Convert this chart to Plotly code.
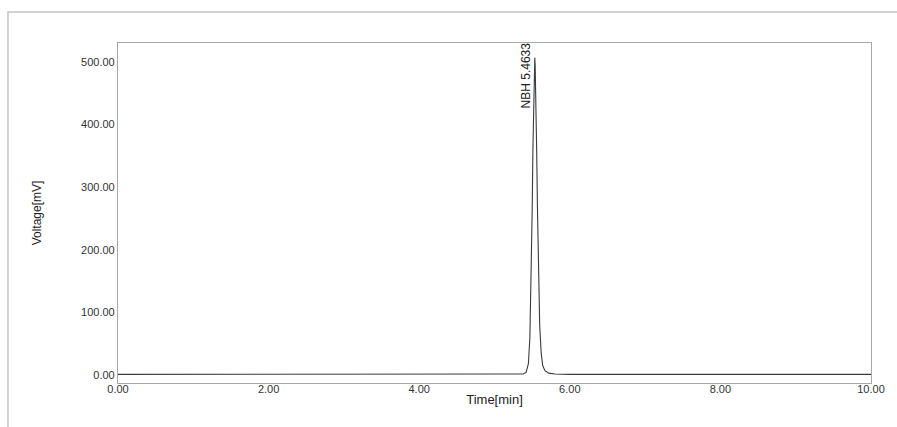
import plotly.graph_objects as go

# Chromatogram data
time_min = [0.00, 1.00, 2.00, 3.00, 4.00, 5.00, 5.30, 5.38, 5.42, 5.45, 5.47, 5.49, 5.50, 5.51,
            5.52, 5.53, 5.535, 5.54, 5.55, 5.56, 5.57, 5.58, 5.59, 5.60, 5.62, 5.64, 5.67,
            5.72, 5.80, 6.00, 7.00, 8.00, 9.00, 10.00]
voltage_mv = [1.0, 1.0, 1.0, 1.0, 1.0, 1.0, 1.0, 1.5, 4.0, 18.0, 60.0, 170.0, 260.0, 360.0,
              450.0, 500.0, 507.0, 495.0, 440.0, 360.0, 270.0, 190.0, 125.0, 80.0, 35.0, 15.0, 7.0,
              3.0, 1.5, 1.0, 1.0, 1.0, 1.0, 1.0]
peak_label = "NBH 5.4633"
peak_time = 5.535
peak_value = 507.0

x_ticks = [0, 2, 4, 6, 8, 10]
x_ticktext = ["0.00", "2.00", "4.00", "6.00", "8.00", "10.00"]
y_ticks = [0, 100, 200, 300, 400, 500]
y_ticktext = ["0.00", "100.00", "200.00", "300.00", "400.00", "500.00"]

fig = go.Figure()
fig.add_trace(go.Scatter(x=time_min, y=voltage_mv, mode="lines",
                         line=dict(color="#3a3a3a", width=1.1), hoverinfo="x+y",
                         showlegend=False))

fig.add_annotation(x=peak_time, y=peak_value, text=peak_label, textangle=-90,
                   showarrow=False, xanchor="right", yanchor="top",
                   xshift=0, yshift=17,
                   font=dict(family="Liberation Sans, Arial", size=12, color="#222"))

# outer frame
fig.add_shape(type="rect", xref="paper", yref="paper",
              x0=-0.1461, x1=1.05, y0=-0.2, y1=1.0912,
              line=dict(color="#c4c4c4", width=1.5), fillcolor="rgba(0,0,0,0)", layer="below")

axis_font = dict(family="Liberation Sans, Arial", size=11, color="#333333")
fig.update_layout(
    template="none",
    width=897, height=427,
    margin=dict(l=118, r=26, t=43, b=44, pad=0),
    paper_bgcolor="white", plot_bgcolor="white",
    font=axis_font,
    xaxis=dict(range=[0, 10], tickvals=x_ticks, ticktext=x_ticktext,
               showgrid=False, zeroline=False, showline=True, mirror=True,
               linecolor="#a8a8a8", linewidth=1.2, ticks="", tickfont=axis_font,
               ticklabelstandoff=-4,
               title=dict(text="Time[min]", standoff=0,
                          font=dict(family="Liberation Sans, Arial", size=13, color="#222"))),
    yaxis=dict(range=[-12.8, 530.4], tickvals=y_ticks, ticktext=y_ticktext,
               showgrid=False, zeroline=False, showline=True, mirror=True,
               linecolor="#a8a8a8", linewidth=1.2, ticks="", ticklen=0, tickfont=axis_font,
               title=dict(text="Voltage[mV]", standoff=36,
                          font=dict(family="Liberation Sans, Arial", size=12, color="#222"))),
)

fig.write_html("out.html", config={"displayModeBar": False},
               post_script="document.body.style.margin='0';")
